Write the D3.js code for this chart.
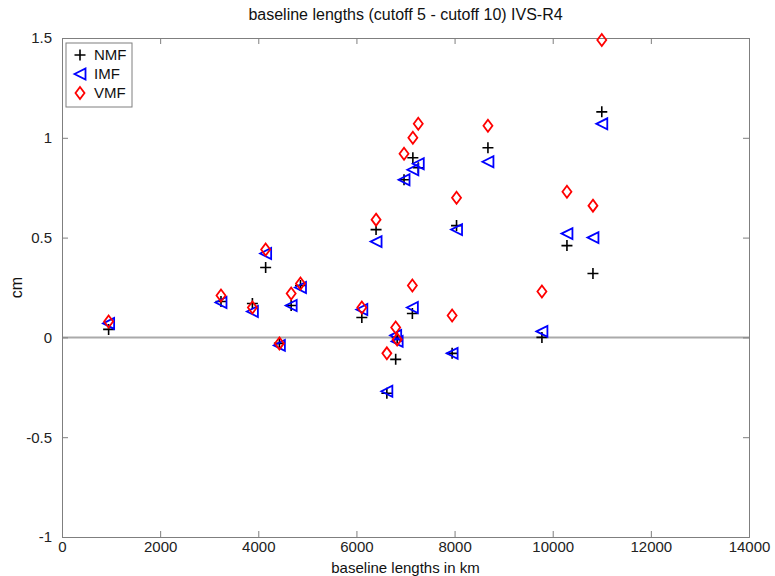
<!DOCTYPE html>
<html>
<head>
<meta charset="utf-8">
<script src="https://cdn.jsdelivr.net/npm/d3@7"></script>
<style>
  body { margin: 0; background: #fff; }
  text { font-family: "Liberation Sans", Arial, sans-serif; }
</style>
</head>
<body>
<div id="chart"></div>
<script>
// baseline lengths (km) and differences (cm) per mapping function
var baselines = [950, 3240, 3880, 4150, 4430, 4670, 4860, 6110, 6400, 6620, 6800, 6830,
                 6970, 7150, 7260, 7140, 7950, 8040, 8680, 9780, 10290, 10820, 11000];
var nmf = [0.04, 0.18, 0.17, 0.35, -0.03, 0.16, 0.26, 0.10, 0.54, -0.28, -0.11, 0.00,
           0.79, 0.90, 0.85, 0.12, -0.08, 0.56, 0.95, 0.00, 0.46, 0.32, 1.13];
var imf = [0.07, 0.175, 0.13, 0.42, -0.04, 0.16, 0.25, 0.14, 0.48, -0.27, 0.01, -0.02,
           0.79, 0.84, 0.87, 0.15, -0.08, 0.54, 0.88, 0.03, 0.52, 0.50, 1.07];
var vmf = [0.08, 0.21, 0.15, 0.44, -0.03, 0.22, 0.27, 0.15, 0.59, -0.08, 0.05, -0.01,
           0.92, 1.00, 1.07, 0.26, 0.11, 0.70, 1.06, 0.23, 0.73, 0.66, 1.49];
var xTicks = [0, 2000, 4000, 6000, 8000, 10000, 12000, 14000];
var yTicks = [-1, -0.5, 0, 0.5, 1, 1.5];

var W = 775, H = 576;
var margin = {top: 38, right: 26, bottom: 39, left: 62};
var width = W - margin.left - margin.right;
var height = H - margin.top - margin.bottom;

var svg = d3.select("#chart").append("svg")
    .attr("width", W).attr("height", H);
var g = svg.append("g")
    .attr("transform", "translate(" + margin.left + "," + margin.top + ")");

var x = d3.scaleLinear().domain([0, 14000]).range([0, width]);
var y = d3.scaleLinear().domain([-1, 1.5]).range([height, 0]);

var frameColor = "#7f7f7f";

// zero line
g.append("line")
    .attr("x1", 0).attr("x2", width)
    .attr("y1", y(0)).attr("y2", y(0))
    .attr("stroke", "#aaaaaa").attr("stroke-width", 2);

// axes, ticks pointing inward like matlab
var xAxis = g.append("g")
    .attr("transform", "translate(0," + height + ")")
    .call(d3.axisBottom(x).tickValues(xTicks).tickSize(-6).tickPadding(7)
          .tickFormat(d3.format("d")));
var xTop = g.append("g")
    .call(d3.axisTop(x).tickValues(xTicks).tickSize(-6).tickFormat(""));
var yAxis = g.append("g")
    .call(d3.axisLeft(y).tickValues(yTicks).tickSize(-6).tickPadding(10)
          .tickFormat(function(d) { return d; }));
var yRight = g.append("g")
    .attr("transform", "translate(" + width + ",0)")
    .call(d3.axisRight(y).tickValues(yTicks).tickSize(-6).tickFormat(""));

[xAxis, xTop, yAxis, yRight].forEach(function(a) {
    a.selectAll(".domain").attr("stroke", frameColor);
    a.selectAll(".tick line").attr("stroke", frameColor);
    a.selectAll("text").attr("font-size", 15).attr("fill", "#222");
});
xAxis.selectAll("text").attr("dy", "0.55em");

// markers
var sym = 11;
function plus(sel, cx, cy) {
    sel.append("path")
        .attr("d", "M" + (cx - sym / 2) + "," + cy + "H" + (cx + sym / 2) +
                   "M" + cx + "," + (cy - sym / 2) + "V" + (cy + sym / 2))
        .attr("stroke", "#000").attr("stroke-width", 1.6).attr("fill", "none");
}
function tri(sel, cx, cy) {
    var s = sym / 2;
    sel.append("path")
        .attr("d", "M" + (cx - s) + "," + cy + "L" + (cx + s) + "," + (cy - s) +
                   "L" + (cx + s) + "," + (cy + s) + "Z")
        .attr("stroke", "#0000ff").attr("stroke-width", 1.8).attr("fill", "none");
}
function diamond(sel, cx, cy) {
    var s = sym / 2 + 0.5;
    sel.append("path")
        .attr("d", "M" + cx + "," + (cy - s) + "L" + (cx + s * 0.75) + "," + cy +
                   "L" + cx + "," + (cy + s) + "L" + (cx - s * 0.75) + "," + cy + "Z")
        .attr("stroke", "#ff0000").attr("stroke-width", 1.8).attr("fill", "none");
}

var pts = g.append("g");
baselines.forEach(function(b, i) { plus(pts, x(b), y(nmf[i])); });
baselines.forEach(function(b, i) { tri(pts, x(b), y(imf[i])); });
baselines.forEach(function(b, i) { diamond(pts, x(b), y(vmf[i])); });

// legend
var leg = g.append("g").attr("transform", "translate(4,5)");
leg.append("rect").attr("width", 66).attr("height", 64)
    .attr("fill", "#fff").attr("stroke", frameColor);
var names = ["NMF", "IMF", "VMF"];
var drawers = [plus, tri, diamond];
names.forEach(function(n, i) {
    var cy = 12 + i * 19;
    drawers[i](leg, 14, cy);
    leg.append("text").attr("x", 28).attr("y", cy).attr("dy", "0.35em")
        .attr("font-size", 15).attr("fill", "#111").text(n);
});

// labels
svg.append("text")
    .attr("x", margin.left + width / 2).attr("y", 20)
    .attr("text-anchor", "middle").attr("font-size", 16).attr("fill", "#111")
    .text("baseline lengths (cutoff 5 - cutoff 10) IVS-R4");
svg.append("text")
    .attr("x", margin.left + width / 2).attr("y", H - 3)
    .attr("text-anchor", "middle").attr("font-size", 15).attr("fill", "#111")
    .text("baseline lengths in km");
svg.append("text")
    .attr("transform", "translate(22," + (margin.top + height / 2) + ") rotate(-90)")
    .attr("text-anchor", "middle").attr("font-size", 16).attr("fill", "#111")
    .text("cm");
</script>
</body>
</html>
